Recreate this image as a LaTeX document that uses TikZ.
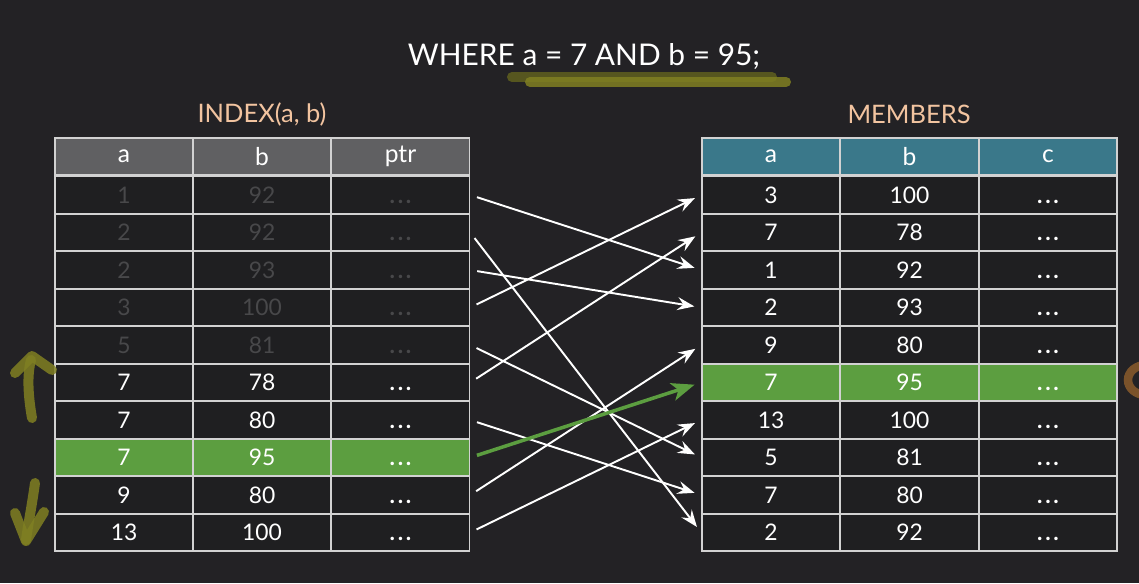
\documentclass[tikz,border=0pt]{standalone}
\usepackage{fontspec}
\setmainfont{Lato}
\usepackage{xcolor}
\usetikzlibrary{arrows.meta, positioning}

\definecolor{bgdark}{RGB}{35,34,37}
\definecolor{celldark}{RGB}{31,31,33}
\definecolor{gridline}{RGB}{210,210,210}
\definecolor{hdrgray}{RGB}{96,96,98}
\definecolor{hdrteal}{RGB}{58,120,138}
\definecolor{hitgreen}{RGB}{92,158,64}
\definecolor{peach}{RGB}{242,196,160}
\definecolor{faded}{RGB}{72,72,74}
\definecolor{marker}{RGB}{128,128,34}
\definecolor{markerdim}{RGB}{96,96,30}
\definecolor{rust}{RGB}{122,82,42}

\newcommand{\etc}{\vphantom{0}\textbf{.\kern1.5pt.\kern1.5pt.}}

\begin{document}
\begin{tikzpicture}[
        x=0.02cm, y=-0.02cm,
        cell/.style={rectangle, draw=gridline, line width=0.9pt, fill=celldark,
                     minimum width=2.76cm, minimum height=0.75cm, inner sep=0pt,
                     text=white, font=\fontsize{13}{13}\selectfont},
        hdr/.style={cell, font=\fontsize{14}{14}\selectfont},
        dim/.style={text=faded},
        hit/.style={fill=hitgreen},
        title/.style={font=\fontsize{14.5}{15}\selectfont, text=peach},
        ptrarr/.style={-{Stealth[length=0.34cm, width=0.26cm, inset=0.12cm]}, white,
                       line width=1.1pt, shorten <=0.14cm, shorten >=0.14cm},
        hitarr/.style={ptrarr, draw=hitgreen, line width=2pt,
                       -{Stealth[length=0.46cm, width=0.36cm, inset=0.12cm]}},
        scribble/.style={line width=0.2cm, line cap=round, line join=round, opacity=0.85},
    ]
    \fill[bgdark] (0,0) rectangle (1139,583);
    \useasboundingbox (0,0) rectangle (1139,583);

    % query
    \node[text=white, font=\fontsize{17}{17}\selectfont] (query) at (584,57) {WHERE a = 7 AND b = 95;};
    \draw[scribble, markerdim] (512,77) -- (772,77);
    \draw[scribble, marker] (530,82) -- (786,82);

    \node[title] (idxname) at (262,114) {INDEX(a, b)};
    \node[title] (tblname) at (909,114) {MEMBERS};

    % index table
    \node[hdr, fill=hdrgray] (L-a-0) at (124,156.5) {a};
    \node[hdr, fill=hdrgray] (L-b-0) at (262,156.5) {b};
    \node[hdr, fill=hdrgray] (L-p-0) at (400.5,156.5) {ptr};
    \foreach \a/\b/\s [count=\i] in {1/92/dim, 2/92/dim, 2/93/dim, 3/100/dim, 5/81/dim,
                                     7/78/, 7/80/, 7/95/hit, 9/80/, 13/100/} {
        \node[cell, \s] (L-a-\i) at (124,157.5+37.5*\i) {\a};
        \node[cell, \s] (L-b-\i) at (262,157.5+37.5*\i) {\b};
        \node[cell, \s] (L-p-\i) at (400.5,157.5+37.5*\i) {\etc};
    }

    % members table
    \node[hdr, fill=hdrteal] (R-a-0) at (771,156.5) {a};
    \node[hdr, fill=hdrteal] (R-b-0) at (909.5,156.5) {b};
    \node[hdr, fill=hdrteal] (R-c-0) at (1048,156.5) {c};
    \foreach \a/\b/\s [count=\i] in {3/100/, 7/78/, 1/92/, 2/93/, 9/80/,
                                     7/95/hit, 13/100/, 5/81/, 7/80/, 2/92/} {
        \node[cell, \s] (R-a-\i) at (771,157.5+37.5*\i) {\a};
        \node[cell, \s] (R-b-\i) at (909.5,157.5+37.5*\i) {\b};
        \node[cell, \s] (R-c-\i) at (1048,157.5+37.5*\i) {\etc};
    }

    % pointers
    \foreach \i/\j in {1/3, 2/10, 3/4, 4/1, 5/8, 6/2, 7/9, 9/5, 10/7}
        \draw[ptrarr] (L-p-\i.east) -- (R-a-\j.west);
    \draw[hitarr] (L-p-8.east) -- (R-a-6.west);

    % scan marks
    \draw[scribble, marker] (32,418) .. controls (28,395) and (27,375) .. (31,360);
    \draw[scribble, marker] (15,373) -- (32,356) -- (52,370);
    \draw[scribble, marker] (35,483) .. controls (32,505) and (28,525) .. (26,540);
    \draw[scribble, marker] (15,513) -- (26,541) -- (44,512);
    \draw[rust, line width=0.17cm] (1146,380) ellipse (18 and 15);
\end{tikzpicture}
\end{document}
